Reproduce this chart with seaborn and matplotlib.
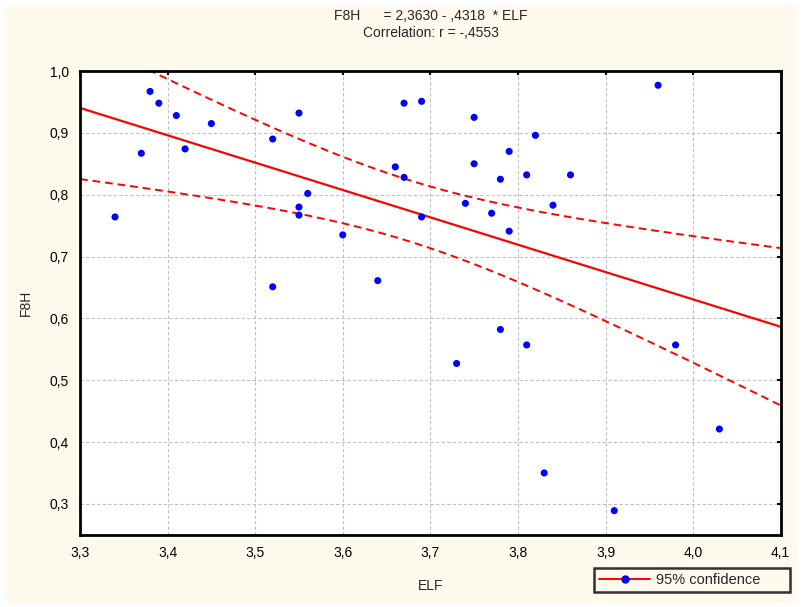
import numpy as np
import pandas as pd
import seaborn as sns
import matplotlib.pyplot as plt
from matplotlib.lines import Line2D
from matplotlib.patches import Rectangle
from matplotlib.ticker import FuncFormatter

# values
elf = [3.38, 3.39, 3.41, 3.45, 3.37, 3.42, 3.34, 3.52, 3.55, 3.56, 3.55, 3.55,
       3.60, 3.52, 3.67, 3.69, 3.75, 3.82, 3.79, 3.75, 3.66, 3.67, 3.78, 3.81,
       3.86, 3.74, 3.84, 3.77, 3.69, 3.79, 3.64, 3.96, 3.78, 3.81, 3.73, 3.83,
       3.91, 3.98, 4.03]
f8h = [0.967, 0.948, 0.928, 0.915, 0.867, 0.874, 0.764, 0.890, 0.932, 0.802, 0.780, 0.767,
       0.735, 0.651, 0.948, 0.951, 0.925, 0.896, 0.870, 0.850, 0.845, 0.828, 0.825, 0.832,
       0.832, 0.786, 0.783, 0.770, 0.764, 0.741, 0.661, 0.977, 0.582, 0.557, 0.527, 0.350,
       0.289, 0.557, 0.421]
title_lines = ["F8H      = 2,3630 - ,4318  * ELF", "Correlation: r = -,4553"]

df = pd.DataFrame({"ELF": elf, "F8H": f8h})

# least squares fit with 95% confidence band of the mean
x = df["ELF"].to_numpy()
y = df["F8H"].to_numpy()
n = len(x)
b, a = np.polyfit(x, y, 1)
resid = y - (a + b * x)
s = np.sqrt(np.sum(resid ** 2) / (n - 2))
sxx = np.sum((x - x.mean()) ** 2)
t_crit = 2.026  # t(0.975, 37)
grid = np.linspace(3.3, 4.1, 200)
fit = a + b * grid
half = t_crit * s * np.sqrt(1 / n + (grid - x.mean()) ** 2 / sxx)
band = pd.DataFrame({"ELF": grid, "fit": fit, "lo": fit - half, "hi": fit + half})

sns.set_style("white")
plt.rcParams["font.family"] = ["Liberation Sans", "DejaVu Sans"]

bg = "#FFF9EE"
fig = plt.figure(figsize=(8.04, 6.07), dpi=100, facecolor="white")
# cream panel inside a thin white border
fig.patches.append(Rectangle((5 / 804, 4 / 607), 792 / 804, 598 / 607,
                             transform=fig.transFigure, facecolor=bg,
                             edgecolor="none", zorder=-10))
ax = fig.add_axes([0.0995, 0.119, 0.8715, 0.764])
ax.set_facecolor("white")

dash = (0, (4, 2.5))
sns.lineplot(data=band, x="ELF", y="fit", ax=ax, color="#FF0000", lw=1.6)
sns.lineplot(data=band, x="ELF", y="lo", ax=ax, color="#FF0000", lw=1.4, linestyle=dash)
sns.lineplot(data=band, x="ELF", y="hi", ax=ax, color="#FF0000", lw=1.4, linestyle=dash)
sns.scatterplot(data=df, x="ELF", y="F8H", ax=ax, color="#0000FF", s=26,
                edgecolor="none", zorder=5)

ax.set_xlim(3.3, 4.1)
ax.set_ylim(0.25, 1.0)
ax.set_xticks(np.arange(3.3, 4.11, 0.1))
ax.set_yticks(np.arange(0.3, 1.01, 0.1))
comma = FuncFormatter(lambda v, p: f"{v:.1f}".replace(".", ","))
ax.xaxis.set_major_formatter(comma)
ax.yaxis.set_major_formatter(comma)
ax.grid(True, color="#C0C0C0", linestyle=(0, (3, 2)), linewidth=0.8)
ax.tick_params(direction="in", length=3, width=1.5, top=True, right=True,
               labelsize=10, colors="black", pad=8)
for sp in ax.spines.values():
    sp.set_color("black")
    sp.set_linewidth(2)

ax.set_xlabel("ELF", fontsize=10, labelpad=14)
ax.set_ylabel("F8H", fontsize=10, labelpad=12)
fig.text(0.5355, 1 - 16 / 607, title_lines[0], ha="center", va="center", fontsize=10)
fig.text(0.5355, 1 - 33 / 607, title_lines[1], ha="center", va="center", fontsize=10)

handle = Line2D([0], [0], color="#FF0000", lw=1.4, marker="o",
                markerfacecolor="#0000FF", markeredgecolor="#0000FF", markersize=5)
leg = fig.legend([handle], ["95% confidence      "], loc="center",
                 bbox_to_anchor=(692 / 804, 1 - 580 / 607), fontsize=10.5,
                 frameon=True, fancybox=False, handlelength=3.5, handletextpad=0.4,
                 borderpad=0.35, borderaxespad=0)
leg.get_frame().set_edgecolor("black")
leg.get_frame().set_linewidth(1.8)
leg.get_frame().set_facecolor(bg)

fig.savefig("out.png", dpi=100, facecolor="white")
